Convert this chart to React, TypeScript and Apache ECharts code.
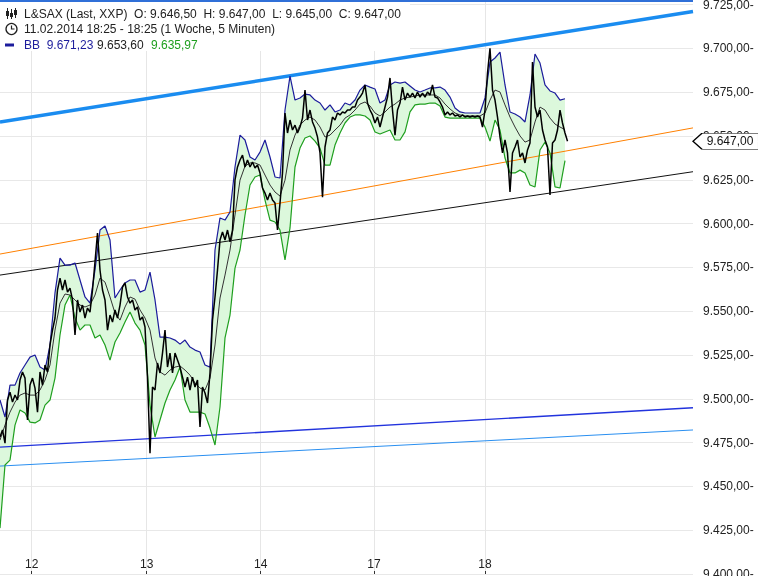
import React, { useEffect, useRef } from 'react';
import * as echarts from 'echarts';

// x unit: sample index (one price sample per index); bands sampled every 2 indices
const dayStarts = [12.68, 58.68, 104.28, 149.6, 194];
const dayLabels = ['12', '13', '14', '17', '18'];
const xMax = 277.2;
const yMin = 9400;
const yMax = 9727.6;
const yTick = 25;

const priceValues = [
  9478.2, 9482.2, 9474.7, 9499.3, 9503.8, 9498.1, 9502.1, 9499.3, 9510.7, 9515.3,
  9511.8, 9487.9, 9507.8, 9511.8, 9506.1, 9492.4, 9515.3, 9507.8, 9519.3, 9515.3,
  9530.7, 9539.2, 9546.1, 9562.1, 9568.9, 9562.1, 9567.8, 9560.9, 9563.2, 9556.4,
  9536.4, 9556.4, 9549.5, 9553.5, 9546.1, 9551.8, 9549.5, 9562.1, 9578.1, 9594.6,
  9573.5, 9562.1, 9556.4, 9539.2, 9547.8, 9543.8, 9550.7, 9546.1, 9553.5, 9563.8,
  9566.1, 9558.1, 9554.6, 9556.4, 9550.7, 9552.4, 9544.9, 9546.7, 9541.0, 9512.4,
  9469.0, 9506.7, 9505.0, 9520.4, 9514.7, 9526.1, 9539.2, 9518.1, 9526.1, 9514.7,
  9526.1, 9522.1, 9518.1, 9512.4, 9506.7, 9512.4, 9505.0, 9512.4, 9506.7, 9510.7,
  9483.9, 9506.7, 9503.3, 9497.6, 9514.7, 9544.9, 9558.1, 9573.5, 9590.6, 9595.2,
  9590.6, 9596.3, 9589.5, 9596.3, 9624.9, 9632.3, 9636.3, 9639.1, 9632.3, 9636.3,
  9632.3, 9635.1, 9631.7, 9633.4, 9628.9, 9620.3, 9617.4, 9613.4, 9617.4, 9613.4,
  9611.7, 9596.3, 9611.7, 9628.9, 9663.1, 9651.7, 9659.1, 9653.4, 9656.2, 9651.7,
  9655.1, 9660.2, 9676.2, 9659.1, 9664.8, 9658.0, 9654.5, 9649.4, 9640.3, 9615.0,
  9643.7, 9651.7, 9653.4, 9660.8, 9659.1, 9663.1, 9662.0, 9663.7, 9663.1, 9664.8,
  9664.8, 9666.5, 9666.5, 9670.5, 9672.2, 9674.5, 9679.1, 9668.8, 9664.8, 9662.0,
  9657.4, 9660.8, 9655.1, 9660.8, 9666.5, 9672.2, 9683.1, 9664.8, 9650.5, 9664.8,
  9668.8, 9677.9, 9670.5, 9674.5, 9672.2, 9674.5, 9671.7, 9675.1, 9672.2, 9674.5,
  9672.2, 9675.1, 9673.4, 9679.1, 9672.2, 9671.7, 9669.4, 9666.5, 9662.0, 9663.7,
  9662.0, 9663.1, 9661.4, 9662.0, 9660.8, 9662.0, 9660.8, 9661.4, 9660.8, 9661.4,
  9660.8, 9661.4, 9660.8, 9655.1, 9664.8, 9685.9, 9700.0, 9676.2, 9670.5, 9660.8,
  9649.4, 9640.3, 9647.7, 9640.3, 9618.0, 9640.3, 9643.7, 9647.7, 9638.0, 9640.3,
  9634.6, 9642.0, 9646.0, 9692.2, 9666.5, 9660.8, 9664.8, 9653.4, 9647.7, 9643.7,
  9616.3, 9646.0, 9647.7, 9653.4, 9664.8, 9657.4, 9651.7, 9647.0,
];

const upperBand = [
  9499.3, 9489.6, 9507.8, 9507.8, 9514.7, 9519.3, 9523.8, 9525.0, 9518.1, 9516.4,
  9530.7, 9560.4, 9580.3, 9576.3, 9576.3, 9577.5, 9567.8, 9558.1, 9554.6, 9573.5,
  9596.3, 9598.6, 9590.6, 9557.5, 9562.1, 9566.1, 9567.8, 9567.8, 9560.9, 9562.1,
  9572.3, 9556.4, 9535.2, 9535.2, 9534.7, 9533.5, 9531.2, 9533.5, 9529.5, 9527.8,
  9526.7, 9519.3, 9518.1, 9584.9, 9603.2, 9602.0, 9606.6, 9632.3, 9650.5, 9647.7,
  9638.0, 9636.3, 9640.8, 9647.7, 9638.0, 9626.6, 9626.0, 9664.8, 9684.2, 9670.5,
  9671.7, 9673.9, 9673.4, 9670.5, 9668.8, 9664.8, 9667.7, 9663.7, 9664.8, 9668.8,
  9667.7, 9670.5, 9676.2, 9679.1, 9677.9, 9676.8, 9668.8, 9670.5, 9679.1, 9680.8,
  9680.2, 9680.8, 9678.5, 9676.2, 9675.1, 9676.2, 9677.4, 9677.4, 9677.9, 9676.2,
  9672.2, 9666.0, 9663.7, 9663.1, 9663.1, 9663.1, 9663.1, 9671.7, 9692.2, 9694.5,
  9697.9, 9679.1, 9663.7, 9662.5, 9660.8, 9658.0, 9673.4, 9696.8, 9691.6, 9679.1,
  9675.7, 9674.5, 9670.5, 9671.23,
];

const middleBand = [
  9476.4, 9485.0, 9492.4, 9498.1, 9502.1, 9503.3, 9502.1, 9502.1, 9505.0, 9510.7,
  9519.3, 9539.2, 9554.6, 9559.8, 9559.2, 9556.4, 9553.5, 9552.4, 9553.5, 9559.2,
  9568.9, 9566.6, 9558.1, 9548.9, 9544.9, 9552.4, 9558.1, 9556.9, 9550.7, 9546.1,
  9539.2, 9523.3, 9515.3, 9513.5, 9516.4, 9518.1, 9518.7, 9516.4, 9513.5, 9509.0,
  9506.1, 9505.0, 9511.8, 9530.7, 9557.5, 9570.6, 9584.9, 9604.9, 9624.8, 9632.8,
  9634.6, 9634.6, 9633.4, 9627.7, 9622.0, 9618.0, 9615.7, 9624.8, 9642.0, 9650.5,
  9656.2, 9659.1, 9660.8, 9659.1, 9655.1, 9649.4, 9650.5, 9653.4, 9656.2, 9660.2,
  9662.0, 9664.8, 9668.2, 9669.4, 9667.1, 9663.1, 9661.4, 9663.7, 9666.5, 9668.2,
  9670.5, 9671.7, 9672.2, 9672.8, 9673.4, 9673.4, 9673.4, 9673.4, 9671.7, 9668.2,
  9665.4, 9663.1, 9662.0, 9661.4, 9661.4, 9661.4, 9661.4, 9663.1, 9670.5, 9676.2,
  9675.1, 9667.7, 9660.8, 9655.1, 9650.0, 9646.5, 9647.7, 9658.0, 9666.5, 9664.8,
  9660.2, 9656.8, 9655.1, 9653.6,
];

const lowerBand = [
  9426.2, 9462.2, 9465.0, 9485.0, 9493.6, 9491.9, 9486.7, 9486.2, 9487.9, 9496.4,
  9499.3, 9511.8, 9536.4, 9553.5, 9559.2, 9546.1, 9539.2, 9542.1, 9542.1, 9534.7,
  9536.4, 9530.7, 9522.1, 9532.4, 9537.5, 9543.8, 9549.5, 9543.2, 9539.2, 9530.7,
  9496.4, 9478.2, 9487.9, 9497.6, 9505.0, 9510.7, 9518.1, 9499.3, 9492.4, 9492.4,
  9492.4, 9491.3, 9483.3, 9473.6, 9495.3, 9534.7, 9547.8, 9574.6, 9584.9, 9604.9,
  9622.0, 9626.6, 9627.7, 9613.4, 9602.0, 9600.9, 9596.3, 9579.2, 9597.5, 9632.3,
  9643.1, 9648.8, 9650.0, 9647.1, 9643.1, 9633.4, 9633.4, 9644.8, 9651.7, 9657.4,
  9660.8, 9662.0, 9662.0, 9661.4, 9659.1, 9652.3, 9651.1, 9652.3, 9653.4, 9647.7,
  9647.7, 9652.3, 9663.7, 9667.7, 9668.2, 9668.2, 9668.8, 9668.8, 9667.1, 9660.8,
  9660.2, 9660.2, 9660.2, 9660.2, 9660.2, 9660.2, 9660.2, 9655.1, 9647.1, 9659.1,
  9653.4, 9637.4, 9628.9, 9628.9, 9630.5, 9628.9, 9622.0, 9620.9, 9642.0, 9646.5,
  9640.3, 9620.9, 9620.3, 9635.97,
];

// trend lines: value at left edge and right edge of plot
const trendThickBlue = [9657.9, 9721.0];
const trendOrange = [9582.6, 9654.6];
const trendBlack = [9570.6, 9629.6];
const trendBlue = [9472.4, 9494.9];
const trendLightBlue = [9461.6, 9482.2];

const ohlc = [9646.5, 9647.0, 9645.0, 9647.0];

const FONT = '"Liberation Sans", Arial, sans-serif';
const C_UPPER = '#1c1c9c';
const C_LOWER = '#1f9f1f';
const C_FILL = '#dcf8dc';

function de(v: number): string {
  const [i, d] = v.toFixed(2).split('.');
  return i.replace(/\B(?=(\d{3})+(?!\d))/g, '.') + ',' + d;
}

export default function App() {
  const ref = useRef<HTMLDivElement>(null);
  useEffect(() => {
    const chart = echarts.init(ref.current!, null, { renderer: 'svg' });
    const priceData = priceValues.map((v, i) => [i, v]);
    const bandX = upperBand.map((_, j) => j * 2);
    const upperData = upperBand.map((v, j) => [bandX[j], v]);
    const middleData = middleBand.map((v, j) => [bandX[j], v]);
    const lowerData = lowerBand.map((v, j) => [bandX[j], v]);
    const trend = (vals: number[]) => [[0, vals[0]], [xMax, vals[1]]];
    const lastPrice = priceValues[priceValues.length - 1];
    const lastU = upperBand[upperBand.length - 1];
    const lastM = middleBand[middleBand.length - 1];
    const lastL = lowerBand[lowerBand.length - 1];

    const trendSeries = (data: number[][], color: string, width: number) => ({
      type: 'line',
      data,
      symbol: 'none',
      silent: true,
      lineStyle: { color, width },
      z: 3,
    });

    const textStyleBase = { font: '12px ' + FONT, verticalAlign: 'middle', fill: '#222' };

    chart.setOption({
      animation: false,
      grid: { left: 0, right: 65, top: 0, bottom: 2, containLabel: false, outerBoundsMode: 'none' },
      xAxis: {
        type: 'value',
        min: 0,
        max: xMax,
        axisLine: { show: false },
        axisTick: { show: true, customValues: dayStarts, inside: true, length: 3, lineStyle: { color: '#333' } },
        axisLabel: {
          show: true,
          customValues: dayStarts,
          inside: true,
          margin: 4,
          color: '#222',
          fontSize: 12,
          fontFamily: FONT,
          formatter: (v: number) => {
            const k = dayStarts.findIndex((d) => Math.abs(d - v) < 1e-6);
            return k >= 0 ? dayLabels[k] : '';
          },
        },
        splitLine: { show: true, lineStyle: { color: '#e6e6e6', width: 1 } },
      },
      yAxis: {
        type: 'value',
        position: 'right',
        min: yMin,
        max: yMax,
        interval: yTick,
        axisLine: { show: false },
        axisTick: { show: false },
        axisLabel: {
          margin: 10,
          color: '#222',
          fontSize: 12,
          fontFamily: FONT,
          formatter: (v: number) => (Math.abs(v % yTick) < 1e-6 ? de(v) + '-' : ''),
        },
        splitLine: { show: true, lineStyle: { color: '#e8e8e8', width: 1 } },
      },
      series: [
        {
          type: 'custom',
          silent: true,
          z: 1,
          data: [[0, yMin]],
          renderItem: (params: any, api: any) => {
            const pts: number[][] = [];
            for (let j = 0; j < upperBand.length; j++) pts.push(api.coord([bandX[j], upperBand[j]]));
            for (let j = lowerBand.length - 1; j >= 0; j--) pts.push(api.coord([bandX[j], lowerBand[j]]));
            return { type: 'polygon', shape: { points: pts }, style: { fill: C_FILL } };
          },
        },
        trendSeries(trend(trendLightBlue), '#2a8ff0', 1),
        trendSeries(trend(trendBlue), '#2233dd', 1.4),
        trendSeries(trend(trendBlack), '#111111', 1),
        trendSeries(trend(trendOrange), '#ff8000', 1),
        trendSeries(trend(trendThickBlue), '#1a8cf0', 3.5),
        { type: 'line', data: upperData, symbol: 'none', silent: true, lineStyle: { color: C_UPPER, width: 1.2 }, z: 4 },
        { type: 'line', data: lowerData, symbol: 'none', silent: true, lineStyle: { color: C_LOWER, width: 1.2 }, z: 4 },
        { type: 'line', data: middleData, symbol: 'none', silent: true, lineStyle: { color: '#333333', width: 1 }, z: 4 },
        {
          type: 'line',
          data: priceData,
          symbol: 'none',
          silent: true,
          lineStyle: { color: '#000000', width: 1.5 },
          z: 5,
          markPoint: {
            silent: true,
            symbol: 'path://M0,8L9,0L66,0L66,16L9,16Z',
            symbolSize: [66, 16],
            symbolOffset: [33, 0],
            itemStyle: { color: '#ffffff', borderColor: '#000000', borderWidth: 1 },
            label: {
              show: true,
              position: 'inside',
              offset: [4, 0],
              color: '#111',
              fontSize: 12,
              fontFamily: FONT,
              formatter: () => de(lastPrice),
            },
            data: [{ coord: [xMax, lastPrice] }],
          },
        },
      ],
      graphic: [
        { type: 'rect', shape: { x: 0, y: 2, width: 410, height: 49 }, style: { fill: '#ffffff' }, z: 100, silent: true },
        { type: 'line', shape: { x1: 0, y1: 1, x2: 693, y2: 1 }, style: { stroke: '#3070d8', lineWidth: 2 }, z: 101, silent: true },
        // candle icon
        { type: 'line', shape: { x1: 7.5, y1: 8, x2: 7.5, y2: 19 }, style: { stroke: '#222', lineWidth: 1 }, z: 101 },
        { type: 'rect', shape: { x: 6, y: 11, width: 3, height: 5 }, style: { fill: '#222' }, z: 101 },
        { type: 'line', shape: { x1: 11.5, y1: 9, x2: 11.5, y2: 19 }, style: { stroke: '#222', lineWidth: 1 }, z: 101 },
        { type: 'rect', shape: { x: 10, y: 13, width: 3, height: 4 }, style: { fill: '#222' }, z: 101 },
        { type: 'line', shape: { x1: 15.5, y1: 8, x2: 15.5, y2: 18 }, style: { stroke: '#222', lineWidth: 1 }, z: 101 },
        { type: 'rect', shape: { x: 14, y: 10, width: 3, height: 5 }, style: { fill: '#222' }, z: 101 },
        // clock icon
        { type: 'circle', shape: { cx: 11.5, cy: 29, r: 5.5 }, style: { stroke: '#222', fill: 'none', lineWidth: 1.3 }, z: 101 },
        { type: 'polyline', shape: { points: [[11.5, 25.5], [11.5, 29], [14.5, 29]] }, style: { stroke: '#222', fill: 'none', lineWidth: 1.2 }, z: 101 },
        // BB icon
        { type: 'rect', shape: { x: 5, y: 43.5, width: 9, height: 3 }, style: { fill: C_UPPER }, z: 101 },
        {
          type: 'text', x: 24, y: 13.5, z: 101,
          style: { ...textStyleBase, text: `L&SAX (Last, XXP)  O: ${de(ohlc[0])}  H: ${de(ohlc[1])}  L: ${de(ohlc[2])}  C: ${de(ohlc[3])}` },
        },
        {
          type: 'text', x: 24, y: 29, z: 101,
          style: { ...textStyleBase, text: '11.02.2014 18:25 - 18:25 (1 Woche, 5 Minuten)' },
        },
        { type: 'text', x: 24, y: 45, z: 101, style: { ...textStyleBase, fill: C_UPPER, text: 'BB  ' + de(lastU) } },
        { type: 'text', x: 97, y: 45, z: 101, style: { ...textStyleBase, fill: '#222', text: de(lastM) } },
        { type: 'text', x: 151, y: 45, z: 101, style: { ...textStyleBase, fill: C_LOWER, text: de(lastL) } },
      ],
    });
    return () => chart.dispose();
  }, []);
  return <div ref={ref} style={{ position: 'fixed', left: 0, top: 0, width: 758, height: 576 }} />;
}
